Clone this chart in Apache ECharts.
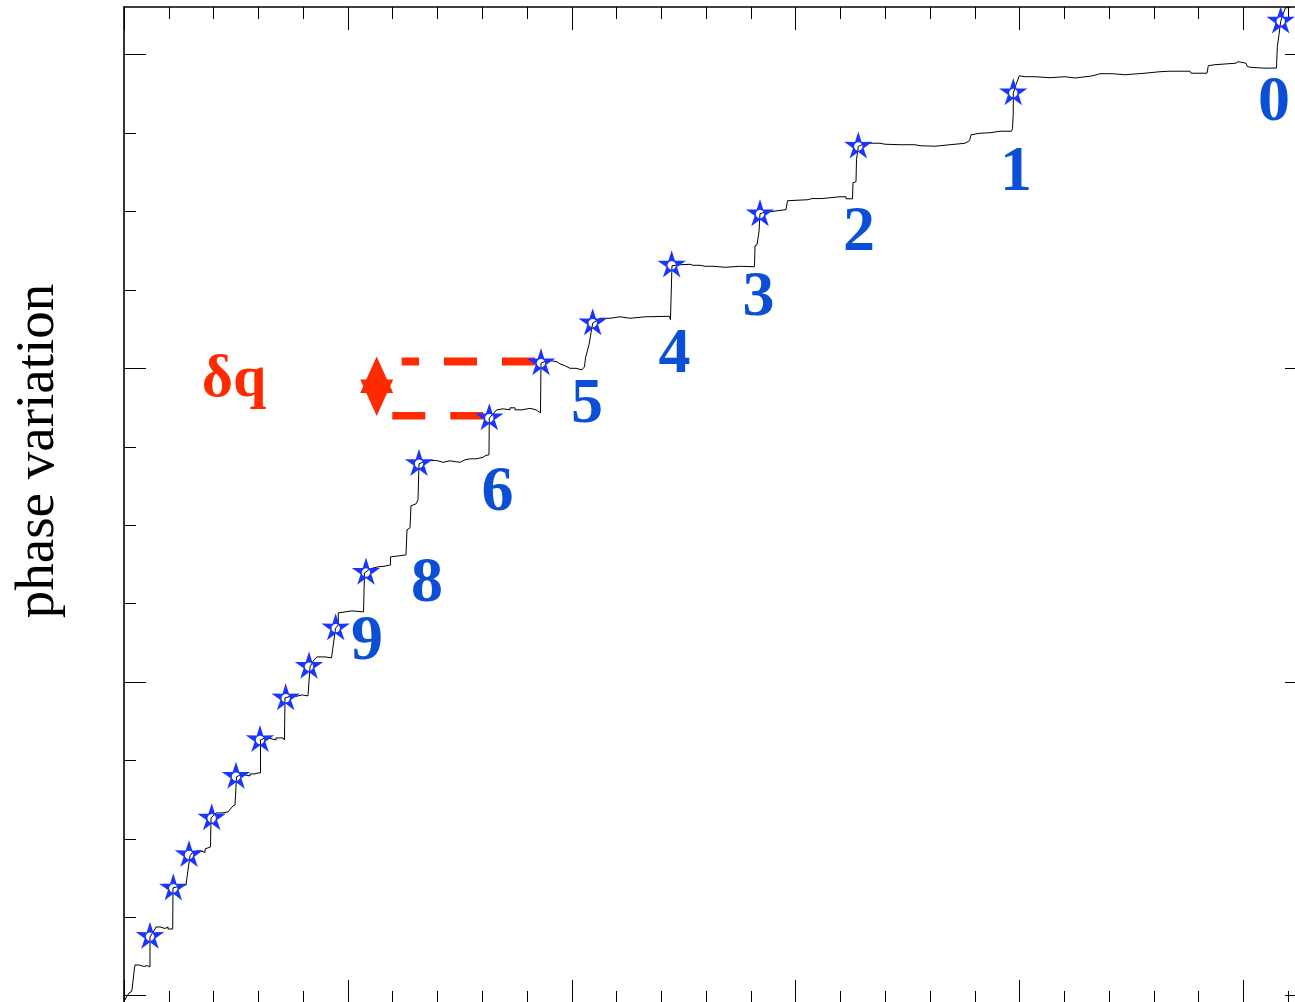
<!DOCTYPE html>
<html><head><meta charset="utf-8">
<script src="https://cdn.jsdelivr.net/npm/echarts@6/dist/echarts.min.js"></script>
<style>html,body{margin:0;padding:0;overflow:hidden;background:#fff}#c{width:1300px;height:1010px}</style>
</head><body><div id="c"></div>
<script>
// ---- data (abstract units: x major tick = 100, y major tick = 100) ----
const curve = [
[0.45,-1.37],[1.34,-0.10],[2.23,0.86],[3.13,1.18],[3.57,1.82],[4.47,7.56],[4.91,9.79],[6.70,9.79],[6.70,9.31],[8.93,9.31],[8.93,9.63],[10.27,9.63],[10.27,9.15],[11.61,9.15],[11.61,18.72],
[13.85,21.27],[14.29,21.91],[16.08,21.91],[16.08,21.43],[18.31,21.43],[18.31,21.91],[19.65,21.91],[19.65,21.27],[21.75,21.27],[21.88,34.35],
[25.01,34.98],[27.69,35.30],[28.58,35.62],[28.58,40.09],[29.48,44.55],
[30.37,45.51],[32.60,45.51],[32.60,46.15],[34.39,46.15],[34.39,45.67],[36.18,45.67],[36.18,46.78],[38.63,47.42],[38.86,56.67],
[41.09,58.26],[43.77,58.26],[43.77,58.58],[46.45,58.58],[47.34,58.90],[48.68,60.50],[49.58,60.82],[50.25,69.75],
[51.81,70.38],[54.04,70.38],[54.04,70.06],[56.28,70.06],[56.28,70.70],[58.51,70.70],[59.85,71.02],[60.97,71.02],[60.97,81.54],
[62.53,82.02],[65.21,82.02],[65.21,81.54],[67.89,81.54],[67.89,82.18],[71.01,82.18],[71.68,81.54],[71.91,94.94],
[74.14,95.42],[76.82,95.42],[76.82,95.90],[79.50,95.90],[79.50,95.58],[82.18,95.58],[83.07,96.21],[83.07,104.83],
[84.86,107.06],[86.20,108.01],[89.77,108.01],[89.77,107.70],[92.68,107.70],[93.35,111.20],[94.02,111.52],[94.46,117.10],
[95.71,118.22],[95.71,122.05],[96.47,122.68],[101.83,122.68],[101.83,122.37],[106.97,122.37],[107.41,134.80],
[109.87,136.08],[113.44,136.72],[116.12,136.88],[119.03,137.35],[119.03,139.91],[122.82,140.23],[125.95,140.54],[126.40,148.52],[127.74,149.15],[128.18,156.17],[130.42,156.81],[131.31,158.08],[131.76,169.57],
[135.19,170.62],[139.66,170.62],[139.66,170.04],[142.47,170.04],[142.47,170.52],[145.60,170.52],[145.60,170.04],[150.07,170.04],[152.30,170.84],[154.53,171.16],[157.21,171.16],[157.21,171.64],[160.34,171.64],[161.68,172.27],[163.02,172.43],[163.15,184.14],
[166.46,186.78],[169.27,187.10],[169.27,186.78],[172.40,186.78],[172.40,187.42],[174.63,187.42],[174.63,186.78],[177.76,186.78],[177.76,187.26],[181.33,187.26],[181.33,186.78],[184.01,186.78],[186.02,185.83],[186.24,201.68],
[188.79,202.41],[191.16,202.41],[191.16,201.93],[193.39,202.09],[194.73,201.45],[196.96,200.82],[199.20,200.02],[201.88,200.02],[201.88,199.54],[204.56,199.54],[205.67,200.50],[206.12,203.37],[207.68,207.51],[208.58,211.34],[209.33,214.43],
[212.60,215.97],[217.06,215.97],[217.06,216.44],[221.53,216.44],[221.53,215.97],[226.00,215.97],[226.00,216.44],[232.69,216.44],[232.69,216.60],[243.64,216.60],[244.08,215.49],[244.31,221.86],[244.75,232.71],
[248.33,233.03],[252.79,233.18],[254.13,232.87],[257.26,232.87],[259.49,232.55],[263.07,232.55],[263.07,232.23],[268.42,232.23],[268.42,232.55],[275.12,232.55],[275.12,232.39],[281.60,232.39],[281.82,239.09],[282.72,239.41],[283.61,243.55],[284.06,249.29],
[286.74,249.93],[289.86,250.03],[292.99,250.41],[295.67,250.57],[296.34,253.44],[300.58,253.60],[305.49,253.76],[307.28,254.14],[311.75,254.14],[311.75,254.55],[317.55,254.55],[319.79,254.71],[322.47,254.71],[322.47,254.07],[325.37,254.07],[325.59,259.18],[326.93,259.50],[327.16,266.51],[327.96,270.75],
[330.95,271.78],[337.65,271.78],[339.89,271.46],[346.58,271.30],[353.28,271.30],[355.52,270.98],[362.22,270.82],[364.45,270.98],[368.92,271.30],[373.38,271.61],[375.62,271.78],[377.63,272.57],[378.30,274.48],[382.32,274.96],[386.78,275.12],[391.25,275.60],[396.38,275.60],[396.83,276.40],[397.18,281.50],[397.18,287.78],
[398.39,290.43],[399.87,293.30],[402.41,292.98],[406.88,292.98],[406.88,292.66],[413.58,292.66],[413.58,292.98],[420.28,292.98],[420.28,292.57],[424.75,292.57],[425.19,292.98],[431.44,293.14],[432.78,293.30],[435.91,293.94],[441.27,293.94],[441.27,293.62],[447.08,293.62],[447.08,294.10],[456.01,294.10],[456.90,294.58],[462.71,294.58],[467.17,294.74],[476.11,294.74],[476.55,294.10],[483.70,294.10],[484.28,296.49],[487.27,296.81],[488.03,297.29],[496.65,297.29],[497.55,297.77],[498.44,297.29],[501.12,297.29],[501.57,296.33],[502.91,296.01],[503.80,295.70],[509.60,295.70],[509.60,296.01],[514.74,295.75],[515.10,302.55],[515.86,306.38],[516.62,310.62],
[518.09,313.71],[518.76,314.99],[520.77,314.99]
];
const stars = [[11.61,18.82],[22.02,34.25],[29.03,44.87],[39.17,56.57],[50.02,69.84],[60.74,81.54],[72.22,94.84],[82.63,104.92],[94.55,117.17],[108.08,134.90],[131.76,169.57],[163.15,184.14],[186.24,201.68],[209.33,214.43],[244.62,232.87],[284.06,249.20],[327.96,270.75],[397.18,287.78],[516.62,310.62]];
const stepNames = ['0','1','2','3','4','5','6','8','9'];
const stepNamePos = [[513.62,284.37],[398.39,262.27],[328.27,243.14],[283.39,222.18],[245.87,204.16],[206.79,188.06],[166.82,160.15],[135.33,131.13],[108.53,112.64]];
const dqUpper = [[183.57,202.19],[124.03,202.19]];
const dqLower = [[119.83,184.87],[162.71,184.87]];
const dqArrow = [[112.86,197.95],[112.86,190.61]];
const dqText = 'δq';
const dqTextPos = [49.13,196.03];
const yTitle = 'phase variation';
const xRange = [0, 523.9];
const yRange = [-2.33, 315.21];
const xMajor = [0,100,200,300,400,500];
const xMinor = [20,40,60,80,120,140,160,180,220,240,260,280,320,340,360,380,420,440,460,480,520];
const yMajor = [0,100,200,300];
const yMinor = [25,50,75,125,150,175,225,250,275];

// ---- styling ----
const RED = '#ff2a00', STAR = '#1a35ff', DIGIT = '#0a4fd6';
function starPath(R, r, h) {
  let d = '';
  for (let i = 0; i < 10; i++) {
    const a = -Math.PI / 2 + i * Math.PI / 5, q = i % 2 ? r : R;
    d += (i ? 'L' : 'M') + (q * Math.cos(a)).toFixed(3) + ',' + (q * Math.sin(a)).toFixed(3) + ' ';
  }
  d += 'Z ';
  for (let i = 0; i < 16; i++) {
    const a = -Math.PI / 2 - i * Math.PI / 8;
    d += (i ? 'L' : 'M') + (h * Math.cos(a)).toFixed(3) + ',' + (h * Math.sin(a)).toFixed(3) + ' ';
  }
  return 'path://' + d + 'Z';
}
function axis(pos, range, ticks, len, showLine) {
  return {
    type: 'value', position: pos, min: range[0], max: range[1], gridIndex: 0,
    axisLine: { show: showLine, onZero: false, lineStyle: { color: '#000', width: 1.6 } },
    axisTick: { show: true, inside: true, length: len, customValues: ticks, lineStyle: { color: '#000', width: 1 } },
    axisLabel: { show: false }, splitLine: { show: false }, minorTick: { show: false }
  };
}
const chart = echarts.init(document.getElementById('c'), null, { renderer: 'canvas' });
chart.setOption({
  animation: false,
  backgroundColor: '#fff',
  grid: { left: 124, top: 7, width: 1173, height: 996 },
  xAxis: [
    axis('bottom', xRange, xMajor, 23, true),
    axis('bottom', xRange, xMinor, 12, false),
    axis('top', xRange, xMajor, 23, true),
    axis('top', xRange, xMinor, 12, false)
  ],
  yAxis: [
    axis('left', yRange, yMajor, 22, true),
    axis('left', yRange, yMinor, 12, false),
    axis('right', yRange, yMajor, 12, true)
  ],
  graphic: [{
    type: 'text', x: 38.5, y: 451, rotation: Math.PI / 2,
    style: { text: yTitle, font: '55px "Liberation Serif"', fill: '#000', align: 'center', verticalAlign: 'middle' }
  }],
  series: [
    { type: 'line', data: curve, symbol: 'none', lineStyle: { color: '#000', width: 1 }, z: 2, clip: true },
    { type: 'line', data: dqUpper, symbol: 'none', lineStyle: { color: RED, width: 8, type: [33, 25], cap: 'butt' }, z: 3 },
    { type: 'line', data: dqLower, symbol: 'none', lineStyle: { color: RED, width: 7.5, type: [33, 25], cap: 'butt' }, z: 3 },
    { type: 'scatter', symbol: 'triangle', symbolSize: [33, 36.6], itemStyle: { color: RED, opacity: 1 },
      data: [{ value: dqArrow[0] }, { value: dqArrow[1], symbolRotate: 180 }], z: 3 },
    { type: 'scatter', data: stars, symbol: starPath(15, 5.6, 4.2), symbolSize: [28.5, 27.1], symbolOffset: [0, -1.43],
      itemStyle: { color: STAR, opacity: 1 }, z: 4 },
    { type: 'scatter', symbol: 'circle', symbolSize: 1, itemStyle: { color: 'rgba(0,0,0,0)', opacity: 1 }, z: 5,
      data: stepNames.map((n, i) => ({ name: n, value: stepNamePos[i] })),
      label: { show: true, position: 'inside', formatter: '{b}', color: DIGIT, opacity: 1, fontFamily: 'Liberation Serif', fontWeight: 'bold', fontSize: 64 } },
    { type: 'scatter', symbol: 'circle', symbolSize: 1, itemStyle: { color: 'rgba(0,0,0,0)', opacity: 1 }, z: 5,
      data: [{ name: dqText, value: dqTextPos }],
      label: { show: true, position: 'inside', formatter: '{b}', color: RED, opacity: 1, fontFamily: 'Liberation Serif', fontWeight: 'bold', fontSize: 60 } }
  ]
});
</script>
</body></html>
